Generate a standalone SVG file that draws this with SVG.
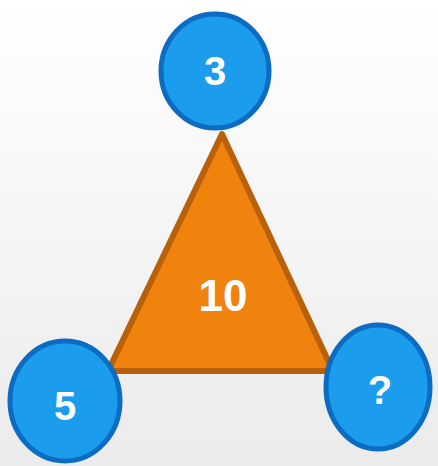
<svg xmlns="http://www.w3.org/2000/svg" width="438" height="466" viewBox="0 0 438 466">
<defs>
<linearGradient id="bg" x1="0" y1="0" x2="0" y2="1">
<stop offset="0" stop-color="#ffffff"/>
<stop offset="1" stop-color="#ebebeb"/>
</linearGradient>
<style>
.node{fill:#1b9cec;stroke:#0b6cc2;stroke-width:5}
.lbl{font-family:"Liberation Sans",Arial,sans-serif;font-weight:bold;fill:#ffffff;text-anchor:middle}
</style>
</defs>
<rect width="438" height="466" fill="url(#bg)"/>
<g id="connectors"></g>
<g id="triangle">
<polygon points="222,134 108,371 333,371" fill="#f0820e" stroke="#b9600a" stroke-width="6" stroke-linejoin="round"/>
<text class="lbl" x="223" y="311" font-size="44">10</text>
</g>
<g id="node-top">
<ellipse class="node" cx="215" cy="71" rx="54" ry="57"/>
<text class="lbl" x="215" y="85" font-size="40">3</text>
</g>
<g id="node-left">
<ellipse class="node" cx="65" cy="401" rx="55" ry="60"/>
<text class="lbl" x="65" y="420" font-size="40">5</text>
</g>
<g id="node-right">
<ellipse class="node" cx="378" cy="387" rx="52" ry="62"/>
<text class="lbl" x="380" y="404" font-size="40">?</text>
</g>
</svg>
